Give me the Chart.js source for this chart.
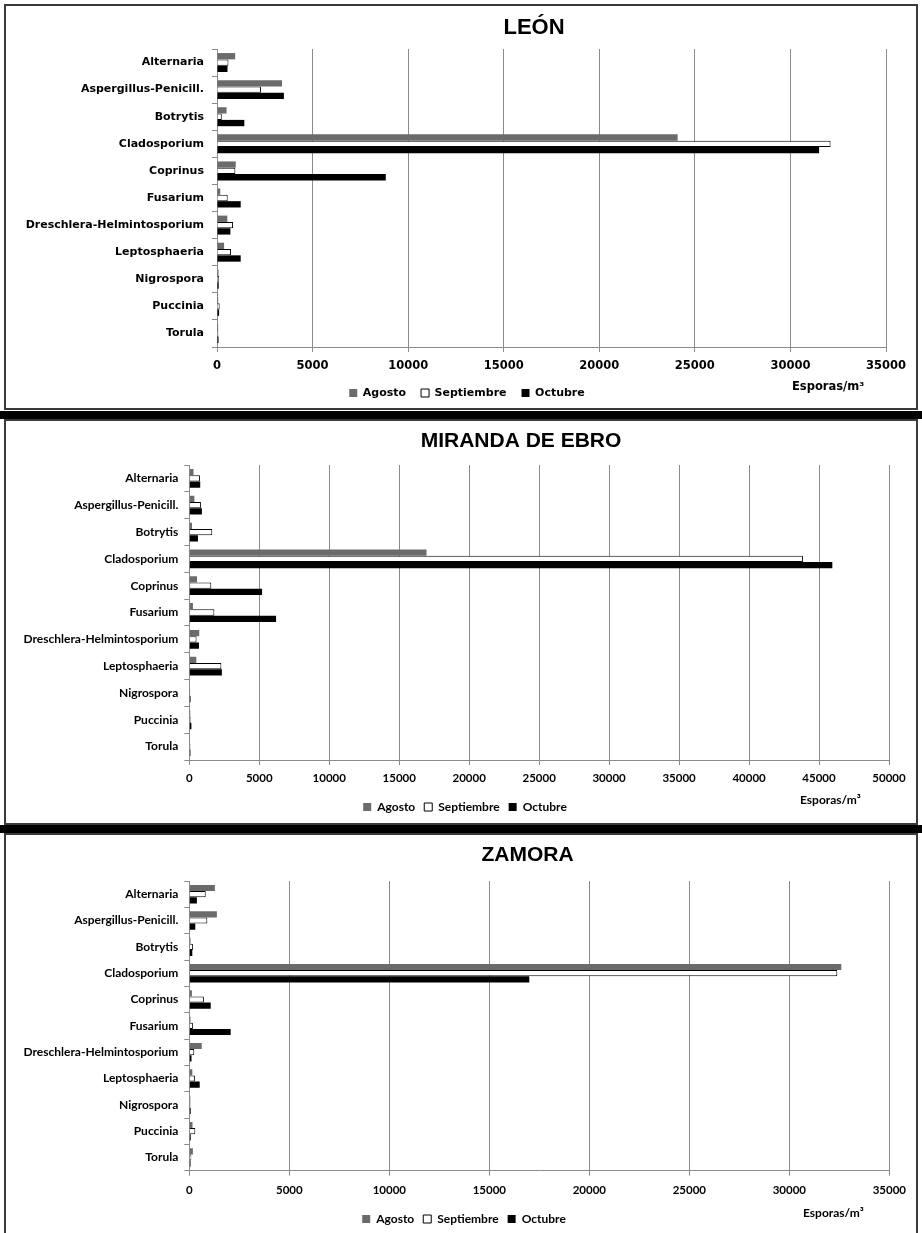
<!DOCTYPE html>
<html>
<head>
<meta charset="utf-8">
<script src="https://cdn.jsdelivr.net/npm/chart.js@4.4.0/dist/chart.umd.min.js"></script>
<style>
  html, body { margin: 0; padding: 0; background: #fff; width: 922px; height: 1233px; overflow: hidden; }
  .frame { position: absolute; left: 4px; width: 914px; border: 2px solid #3a3a3a; box-sizing: border-box; }
  .band { position: absolute; left: 0; width: 922px; background: #000; }
  canvas { position: absolute; }
</style>
</head>
<body>
<div class="frame" style="top:4px;height:406px;"></div>
<div class="band" style="top:411px;height:8px;"></div>
<div class="frame" style="top:419px;height:406px;"></div>
<div class="band" style="top:825px;height:8px;"></div>
<div class="frame" style="top:833px;height:420px;"></div>
<canvas id="c1" width="902" height="410" style="left:16px;top:0px"></canvas>
<canvas id="c2" width="906" height="410" style="left:12px;top:420px"></canvas>
<canvas id="c3" width="904" height="410" style="left:12px;top:834px"></canvas>
<script>
// ---------- DATA ----------
const categories = ['Alternaria', 'Aspergillus-Penicill.', 'Botrytis', 'Cladosporium', 'Coprinus',
  'Fusarium', 'Dreschlera-Helmintosporium', 'Leptosphaeria', 'Nigrospora', 'Puccinia', 'Torula'];
const seriesNames = ['Agosto', 'Septiembre', 'Octubre'];

const leonAgosto     = [950, 3400, 500, 24100, 980, 170, 540, 370, 80, 60, 60];
const leonSeptiembre = [600, 2300, 250, 32100, 960, 560, 840, 730, 100, 140, 70];
const leonOctubre    = [550, 3500, 1430, 31500, 8830, 1240, 700, 1240, 90, 110, 80];

const mirandaAgosto     = [300, 360, 190, 16950, 550, 260, 710, 500, 50, 70, 50];
const mirandaSeptiembre = [760, 830, 1640, 43850, 1570, 1790, 520, 2290, 70, 100, 80];
const mirandaOctubre    = [780, 900, 620, 45950, 5200, 6200, 690, 2330, 90, 150, 80];

const zamoraAgosto     = [1280, 1380, 60, 32600, 130, 60, 620, 150, 50, 160, 180];
const zamoraSeptiembre = [820, 900, 180, 32400, 730, 180, 250, 280, 60, 300, 100];
const zamoraOctubre    = [380, 300, 150, 17000, 1070, 2070, 110, 520, 70, 70, 60];

const leonMax = 35000, mirandaMax = 50000, zamoraMax = 35000;
const tickStep = 5000;
const unitLabel = 'Esporas/m³';

// ---------- STYLE ----------
const GRID = '#8a8a8a';
const colAgosto = '#6b6b6b';

const panelText = {
  id: 'panelText',
  afterDraw(chart, args, o) {
    const ctx = chart.ctx;
    ctx.save();
    ctx.fillStyle = '#000';
    ctx.textBaseline = 'middle';
    ctx.textAlign = 'center';
    ctx.font = o.titleFont;
    ctx.fillText(o.title, o.titleX, o.titleY);
    ctx.textAlign = 'left';
    ctx.font = o.unitFont;
    ctx.fillText(unitLabel, o.unitX, o.unitY);
    ctx.restore();
  }
};

function makeChart(id, s) {
  const datasets = [
    { label: seriesNames[0], data: s.a, backgroundColor: colAgosto, borderWidth: 0 },
    { label: seriesNames[1], data: s.b, backgroundColor: '#ffffff', borderColor: '#000', borderWidth: 1 },
    { label: seriesNames[2], data: s.c, backgroundColor: '#000000', borderWidth: 0 }
  ];
  return new Chart(document.getElementById(id), {
    type: 'bar',
    data: { labels: categories, datasets },
    plugins: [panelText],
    options: {
      indexAxis: 'y',
      responsive: false,
      animation: false,
      devicePixelRatio: 1,
      categoryPercentage: 0.7,
      barPercentage: 1.0,
      layout: { padding: { left: 0, right: 0, top: s.padT, bottom: s.padB } },
      scales: {
        x: {
          min: 0, max: s.max,
          ticks: { stepSize: tickStep, color: '#000', padding: s.xTickPad,
                   font: { family: s.family, weight: 'bold', size: s.tickSize },
                   callback: v => String(v), maxRotation: 0 },
          grid: { color: GRID, lineWidth: 1, drawTicks: true, tickLength: 5, tickColor: GRID },
          border: { display: true, color: GRID, width: 1 },
          afterFit: sc => { sc.height = s.xH; }
        },
        y: {
          ticks: { color: '#000', padding: s.yTickPad, autoSkip: false,
                   font: { family: s.family, weight: 'bold', size: s.labelSize } },
          grid: { drawOnChartArea: false, drawTicks: true, tickLength: 5, color: GRID, offset: true },
          border: { display: true, color: GRID, width: 1 },
          afterFit: sc => { sc.width = s.yW; }
        },
        // empty right-hand spacer so the legend stays centred on the whole panel
        spacer: {
          type: 'category', axis: 'y', position: 'right', labels: categories,
          ticks: { display: false }, grid: { display: false }, border: { display: false },
          afterFit: sc => { sc.width = s.rightW; }
        }
      },
      plugins: {
        legend: {
          position: 'bottom',
          labels: { color: '#000', boxWidth: s.box, boxHeight: s.box, padding: s.legPad,
                    font: { family: s.family, weight: 'bold', size: s.legendSize } }
        },
        tooltip: { enabled: false },
        panelText: s.text
      }
    }
  });
}

Chart.defaults.font.family = 'DejaVu Sans';

// canvas 1 starts at page x=16
makeChart('c1', {
  a: leonAgosto, b: leonSeptiembre, c: leonOctubre, max: leonMax,
  family: 'DejaVu Sans', tickSize: 11.5, labelSize: 11, legendSize: 11, box: 8, legPad: 15,
  padT: 49, padB: 1.5, yW: 201, rightW: 32, xH: 25.5, xTickPad: 7, yTickPad: 8,
  text: { title: 'LEÓN', titleFont: 'bold 22px "Liberation Sans"', titleX: 534 - 16, titleY: 28,
          unitFont: 'bold 11.5px "DejaVu Sans"', unitX: 792 - 16, unitY: 387 }
});

// canvas 2 starts at page x=12
makeChart('c2', {
  a: mirandaAgosto, b: mirandaSeptiembre, c: mirandaOctubre, max: mirandaMax,
  family: 'Lato', tickSize: 11.5, labelSize: 12, legendSize: 12, box: 8, legPad: 9,
  padT: 45, padB: 7, yW: 177.3, rightW: 29, xH: 32, xTickPad: 6, yTickPad: 6,
  text: { title: 'MIRANDA DE EBRO', titleFont: 'bold 21px "Liberation Sans"', titleX: 521 - 12, titleY: 21,
          unitFont: 'bold 12px Lato', unitX: 800 - 12, unitY: 380 }
});

// canvas 3 starts at page x=12
makeChart('c3', {
  a: zamoraAgosto, b: zamoraSeptiembre, c: zamoraOctubre, max: zamoraMax,
  family: 'Lato', tickSize: 11.5, labelSize: 12, legendSize: 12, box: 8, legPad: 9,
  padT: 47, padB: 9, yW: 177.3, rightW: 26.7, xH: 33.3, xTickPad: 8, yTickPad: 6,
  text: { title: 'ZAMORA', titleFont: 'bold 21px "Liberation Sans"', titleX: 527.5 - 12, titleY: 21,
          unitFont: 'bold 12px Lato', unitX: 803 - 12, unitY: 379 }
});
</script>
</body>
</html>
